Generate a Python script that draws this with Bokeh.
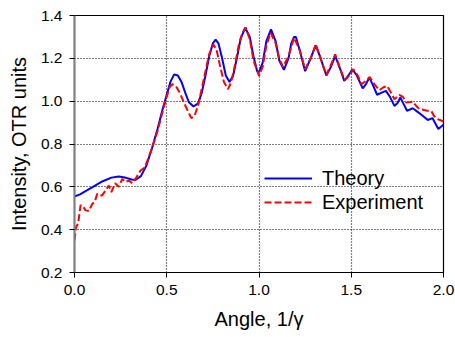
from bokeh.plotting import figure
from bokeh.models import Legend, LegendItem, FixedTicker, Range1d
from bokeh.embed import file_html
from bokeh.resources import INLINE

# Theory curve
theory_x = [0.0, 0.03, 0.06, 0.10, 0.15, 0.20, 0.24, 0.28, 0.31, 0.33, 0.36, 0.39, 0.42, 0.45,
            0.48, 0.50, 0.52, 0.54, 0.56, 0.58, 0.60, 0.62, 0.645, 0.67, 0.69, 0.71, 0.73, 0.75,
            0.765, 0.78, 0.80, 0.82, 0.84, 0.86, 0.88, 0.90, 0.925, 0.95, 0.97, 0.99, 1.0, 1.02,
            1.04, 1.065, 1.09, 1.11, 1.135, 1.16, 1.175, 1.19, 1.20, 1.22, 1.25, 1.28, 1.307, 1.33,
            1.365, 1.39, 1.413, 1.44, 1.462, 1.485, 1.506, 1.53, 1.562, 1.58, 1.598, 1.62, 1.64,
            1.665, 1.688, 1.71, 1.734, 1.75, 1.766, 1.785, 1.802, 1.833, 1.86, 1.887, 1.915,
            1.94, 1.972, 2.0]
theory_y = [0.555, 0.565, 0.58, 0.60, 0.625, 0.643, 0.648, 0.642, 0.634, 0.632, 0.65, 0.70, 0.78,
            0.87, 0.97, 1.03, 1.09, 1.125, 1.12, 1.09, 1.04, 0.995, 0.975, 0.99, 1.04, 1.12, 1.21,
            1.27, 1.287, 1.27, 1.20, 1.12, 1.09, 1.12, 1.20, 1.29, 1.343, 1.30, 1.21, 1.14, 1.135,
            1.18, 1.28, 1.335, 1.28, 1.19, 1.146, 1.20, 1.27, 1.30, 1.30, 1.24, 1.14, 1.20, 1.26,
            1.21, 1.12, 1.16, 1.211, 1.15, 1.095, 1.12, 1.149, 1.12, 1.06, 1.08, 1.11, 1.07, 1.03,
            1.04, 1.048, 1.02, 0.978, 0.99, 1.017, 0.985, 0.955, 0.967, 0.95, 0.932, 0.912, 0.921,
            0.87, 0.89]

# Experiment curve
exp_x = [0.0, 0.008, 0.02, 0.033, 0.045, 0.06, 0.078, 0.096, 0.11, 0.123, 0.14, 0.15, 0.168, 0.186,
         0.20, 0.22, 0.24, 0.259, 0.277, 0.295, 0.313, 0.33, 0.358, 0.38, 0.395, 0.42, 0.45, 0.48,
         0.50, 0.515, 0.53, 0.55, 0.57, 0.60, 0.633, 0.65, 0.67, 0.69, 0.71, 0.73, 0.753, 0.77,
         0.79, 0.81, 0.832, 0.85, 0.87, 0.89, 0.91, 0.928, 0.95, 0.97, 1.0, 1.02, 1.04, 1.063,
         1.09, 1.11, 1.13, 1.16, 1.19, 1.22, 1.25, 1.28, 1.308, 1.33, 1.364, 1.39, 1.413, 1.44,
         1.465, 1.49, 1.511, 1.535, 1.556, 1.58, 1.60, 1.625, 1.652, 1.675, 1.694, 1.715, 1.734,
         1.76, 1.78, 1.797, 1.815, 1.833, 1.85, 1.869, 1.89, 1.91, 1.933, 1.95, 1.969, 2.0]
exp_y = [0.35, 0.41, 0.43, 0.515, 0.51, 0.49, 0.487, 0.52, 0.53, 0.567, 0.56, 0.56, 0.583, 0.606,
         0.575, 0.617, 0.60, 0.637, 0.622, 0.63, 0.617, 0.637, 0.676, 0.69, 0.722, 0.78, 0.86, 0.96,
         1.02, 1.065, 1.079, 1.07, 1.04, 0.98, 0.921, 0.93, 0.98, 1.06, 1.14, 1.22, 1.265, 1.24,
         1.16, 1.09, 1.056, 1.09, 1.17, 1.26, 1.32, 1.343, 1.29, 1.19, 1.118, 1.16, 1.26, 1.319,
         1.27, 1.20, 1.16, 1.21, 1.296, 1.24, 1.149, 1.20, 1.265, 1.21, 1.122, 1.17, 1.219, 1.15,
         1.098, 1.12, 1.149, 1.12, 1.079, 1.095, 1.113, 1.08, 1.051, 1.065, 1.071, 1.04, 1.009,
         1.029, 1.02, 0.994, 0.995, 0.998, 0.98, 0.963, 0.96, 0.955, 0.955, 0.93, 0.916, 0.905]

x_ticks = [0.0, 0.5, 1.0, 1.5, 2.0]
y_ticks = [0.2, 0.4, 0.6, 0.8, 1.0, 1.2, 1.4]

FONT = "Liberation Sans"

p = figure(width=455, height=337, output_backend="svg", toolbar_location=None,
           x_range=Range1d(0, 2.0), y_range=Range1d(0.2, 1.4),
           min_border_left=74, min_border_right=12, min_border_top=15, min_border_bottom=65)

p.outline_line_color = "black"
p.outline_line_width = 1.2
p.background_fill_color = "white"
p.border_fill_color = "white"

for ax in (p.xaxis[0], p.yaxis[0]):
    ax.major_label_text_font = FONT
    ax.major_label_text_font_size = "15.5px"
    ax.major_label_text_color = "black"
    ax.axis_label_text_font = FONT
    ax.axis_label_text_font_size = "20px"
    ax.axis_label_text_font_style = "normal"
    ax.axis_label_text_color = "black"
    ax.minor_tick_line_color = None
    ax.major_tick_in = 0
    ax.major_tick_out = 5
    ax.major_label_standoff = 7

p.xaxis[0].ticker = FixedTicker(ticks=x_ticks)
p.yaxis[0].ticker = FixedTicker(ticks=y_ticks)
p.xaxis[0].major_label_overrides = {t: f"{t:.1f}" for t in x_ticks}
p.yaxis[0].major_label_overrides = {t: f"{t:.1f}" for t in y_ticks}
p.xaxis.axis_label = "Angle, 1/\u03b3"
p.yaxis.axis_label = "Intensity, OTR units"
p.xaxis.axis_label_standoff = 10
p.yaxis.axis_label_standoff = 8
p.xaxis.axis_line_color = "black"
p.xaxis.major_tick_line_color = "black"
p.yaxis.axis_line_color = "#808080"
p.yaxis.axis_line_width = 2
p.yaxis.major_tick_line_color = "black"

p.xgrid.ticker = FixedTicker(ticks=[0.5, 1.0, 1.5])
p.ygrid.ticker = FixedTicker(ticks=[0.4, 0.6, 0.8, 1.0, 1.2])
for g in (p.xgrid[0], p.ygrid[0]):
    g.grid_line_color = "black"
    g.grid_line_dash = "1 2"
    g.grid_line_width = 1.2

r_th = p.line(theory_x, theory_y, line_color="#0000FF", line_width=2)
r_ex = p.line(exp_x, exp_y, line_color="#FF0000", line_width=2, line_dash="7 3")

legend = Legend(items=[LegendItem(label="Theory", renderers=[r_th]),
                       LegendItem(label="Experiment", renderers=[r_ex])],
                location=(190, 58), orientation="vertical")
legend.label_text_font = FONT
legend.label_text_font_size = "20px"
legend.label_text_color = "black"
legend.glyph_width = 48
legend.glyph_height = 24
legend.label_height = 24
legend.label_standoff = 10
legend.spacing = 0
legend.padding = 0
legend.margin = 0
legend.border_line_color = None
legend.background_fill_alpha = 0
p.add_layout(legend, "center")

open("out.html", "w").write(file_html(p, INLINE))
